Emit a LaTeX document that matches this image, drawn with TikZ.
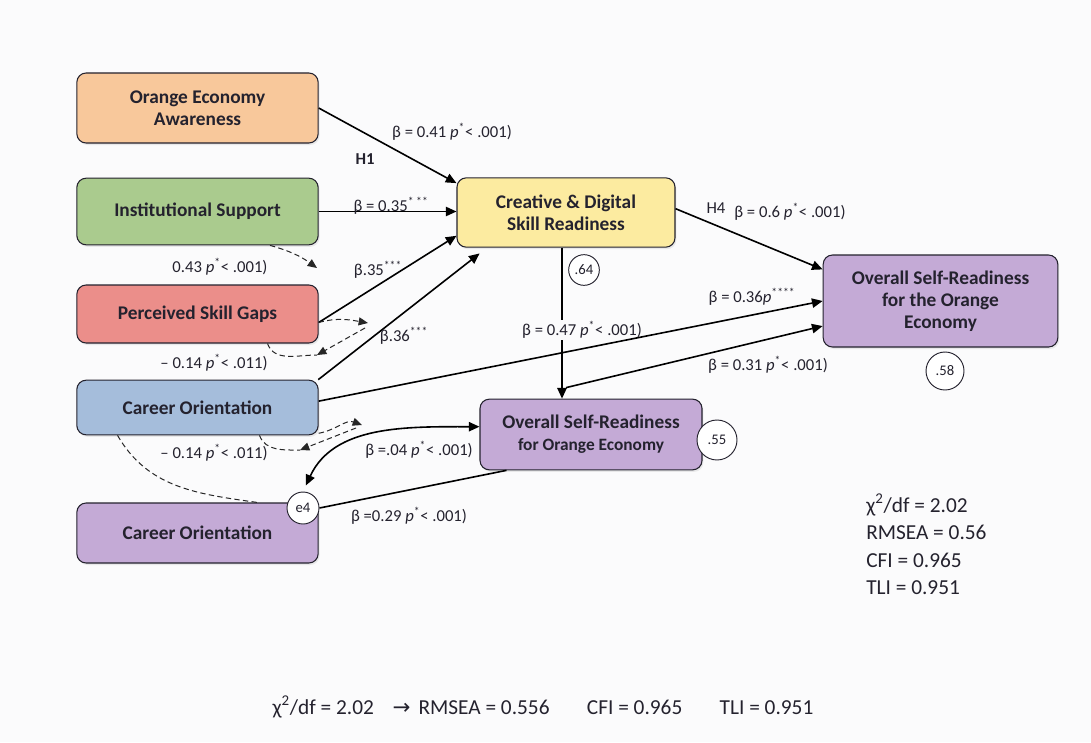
\documentclass[tikz,border=0pt]{standalone}
\usepackage{fontspec}
\setmainfont{Carlito}
\newfontfamily\symbolfont{DejaVu Sans}
\usepackage{xcolor}
\usepackage{tikz}
\usetikzlibrary{arrows.meta,shadows,calc}

\definecolor{bgpaper}{HTML}{FBFBFC}
\definecolor{boxorange}{HTML}{F8C89B}
\definecolor{boxgreen}{HTML}{AACB8E}
\definecolor{boxred}{HTML}{EB8E8A}
\definecolor{boxblue}{HTML}{A5BDDB}
\definecolor{boxpurple}{HTML}{C4AAD6}
\definecolor{boxyellow}{HTML}{FCEBA0}
\definecolor{inkdark}{HTML}{24222E}

\newcommand{\pstar}{\textit{p}\textsuperscript{*}}

\tikzset{
  box/.style={draw=inkdark, line width=0.8pt, rounded corners=7pt, align=center,
    minimum width=181pt, text=inkdark, font=\bfseries\fontsize{14.5}{16.5}\selectfont,
    drop shadow={opacity=0.15, shadow xshift=1pt, shadow yshift=-1.5pt}},
  circ/.style={draw=inkdark, fill=white, circle, line width=0.7pt, inner sep=0pt,
    text=inkdark, font=\fontsize{11}{12}\selectfont},
  lab/.style={text=inkdark, inner sep=1pt, font=\fontsize{12.5}{14}\selectfont},
  stat/.style={text=inkdark, inner sep=0pt, font=\fontsize{16}{20.6}\selectfont},
  link/.style={draw=black, line width=1.2pt, -{Triangle[length=8pt,width=7pt]}},
  bilink/.style={draw=black, line width=1.2pt, {Triangle[length=8pt,width=7pt]}-{Triangle[length=8pt,width=7pt]}},
  dline/.style={draw=black!85, line width=0.75pt, dash pattern=on 4pt off 2.5pt},
  dlink/.style={dline, -{Triangle[length=7pt,width=6pt]}},
}

\begin{document}
\begin{tikzpicture}[x=0.75pt, y=-0.75pt]

    % Background
    \fill[bgpaper] (0,0) rectangle (1091,742);
    \useasboundingbox (0,0) rectangle (1091,742);

    % Predictors
    \node[box, fill=boxorange, minimum height=52.5pt] (awareness) at (197.5,108) {Orange Economy\\Awareness};
    \node[box, fill=boxgreen, minimum height=50pt] (support) at (197.5,211.5) {Institutional Support};
    \node[box, fill=boxred, minimum height=43.5pt] (gaps) at (197.5,314) {Perceived Skill Gaps};
    \node[box, fill=boxblue, minimum height=41pt] (career) at (197.5,407.5) {Career Orientation};
    \node[box, fill=boxpurple, minimum height=45pt] (careerb) at (197.5,533) {Career Orientation};

    % Mediator and outcomes
    \node[box, fill=boxyellow, minimum width=163.5pt, minimum height=52pt] (skill) at (566,212.5) {Creative \& Digital\\Skill Readiness};
    \node[box, fill=boxpurple, minimum width=176pt, minimum height=69pt] (ready) at (940.5,301) {Overall Self-Readiness\\for the Orange\\Economy};
    \node[box, fill=boxpurple, minimum width=166.5pt, minimum height=53pt] (readym) at (591,434.5) {Overall Self-Readiness\\{\fontsize{13}{15}\selectfont for Orange Economy}};

    % R-squared and error terms
    \node[circ, minimum size=23pt] (r64) at (584,270) {.64};
    \node[circ, minimum size=28.5pt] (r58) at (945,371) {.58};
    \node[circ, minimum size=30pt] (r55) at (717,440) {.55};
    \node[circ, minimum size=24pt] (e4) at (303,508) {e4};

    % Free ends of the covariances
    \coordinate (s1) at (317,268);
    \coordinate (g1) at (368,323);
    \coordinate (g2) at (365,328);
    \coordinate (g3) at (317,355);
    \coordinate (c1) at (362,425);
    \coordinate (c2) at (356,428);
    \coordinate (c3) at (300,450);

    % Structural paths
    \draw[link] (awareness.east) -- (skill.165);
    \draw[link] (support.east) -- (skill.west |- support.east);
    \draw[link] (gaps.-4) -- (skill.192);
    \draw[link, shorten >=7pt] (career.13.5) -- (skill.204);
    \draw[link] (skill.2) -- (ready.165);
    \draw[link] ([xshift=-3pt]skill.south) -- ([xshift=-3pt]skill.south |- readym.north);
    \node[lab, fill=bgpaper] (l47) at (582,330) {β = 0.47 \pstar< .001)};
    \draw[link] (career.3.6) -- (ready.west);
    \draw[link] ($(skill.south |- readym.north)+(0,-11)$) -- (ready.192);
    \draw[bilink, shorten <=5pt] (e4.north) to[out=65, in=180] (readym.176);
    \draw[line width=1.2pt] (e4.east) -- (readym.203);

    % Covariances
    \draw[dlink] ($(support.south)+(72.5,0)$) to[bend left=10] (s1);
    \draw[dlink] (gaps.-4) to[out=15, in=170] (g1);
    \draw[dlink] (g2) -- (g3);
    \draw[dline] ($(gaps.south)+(70,0)$) to[out=-70, in=180] (g3);
    \draw[dlink] (career.-12) to[out=10, in=160] (c1);
    \draw[dlink] (c2) -- (c3);
    \draw[dline] ($(career.south)+(62,0)$) to[out=-70, in=180] (c3);
    \draw[dline] ($(career.south)+(-80,0)$) to[out=-60, in=172] ($(careerb.north)+(60,0)$);

    % Path labels
    \node[lab] (l41) at (452,132) {β = 0.41 \pstar< .001)};
    \node[lab, font=\bfseries\fontsize{12.5}{14}\selectfont] (h1) at (365,159) {H1};
    \node[lab] (l35) at (391,206) {β = 0.35\textsuperscript{* **}};
    \node[lab] (l43) at (220,267) {0.43 \pstar< .001)};
    \node[lab] (l35b) at (378,270) {β.35\textsuperscript{***}};
    \node[lab] (l36b) at (404,336) {β.36\textsuperscript{***}};
    \node[lab] (l14a) at (214,363) {– 0.14 \pstar< .011)};
    \node[lab] (l14b) at (214,453) {– 0.14 \pstar< .011)};
    \node[lab] (l04) at (419,450) {β =.04 \pstar< .001)};
    \node[lab] (l29) at (409,516) {β =0.29 \pstar< .001)};
    \node[lab] (h4) at (716,208) {H4};
    \node[lab] (l6) at (790,212) {β = 0.6 \pstar< .001)};
    \node[lab] (l36) at (752,297) {β = 0.36\textit{p}\textsuperscript{****}};
    \node[lab] (l31) at (768,365) {β = 0.31 \pstar< .001)};

    % Fit indices
    \node[stat, align=left, anchor=north west] (fitblock) at (866,494)
      {χ\textsuperscript{2}/df = 2.02\\RMSEA = 0.56\\CFI = 0.965\\TLI = 0.951};
    \node[stat] (fitline) at (543,707)
      {χ\textsuperscript{2}/df = 2.02\hspace{14pt}{\symbolfont →}\hspace{6pt}RMSEA = 0.556\hspace{28pt}CFI = 0.965\hspace{28pt}TLI = 0.951};

\end{tikzpicture}
\end{document}
